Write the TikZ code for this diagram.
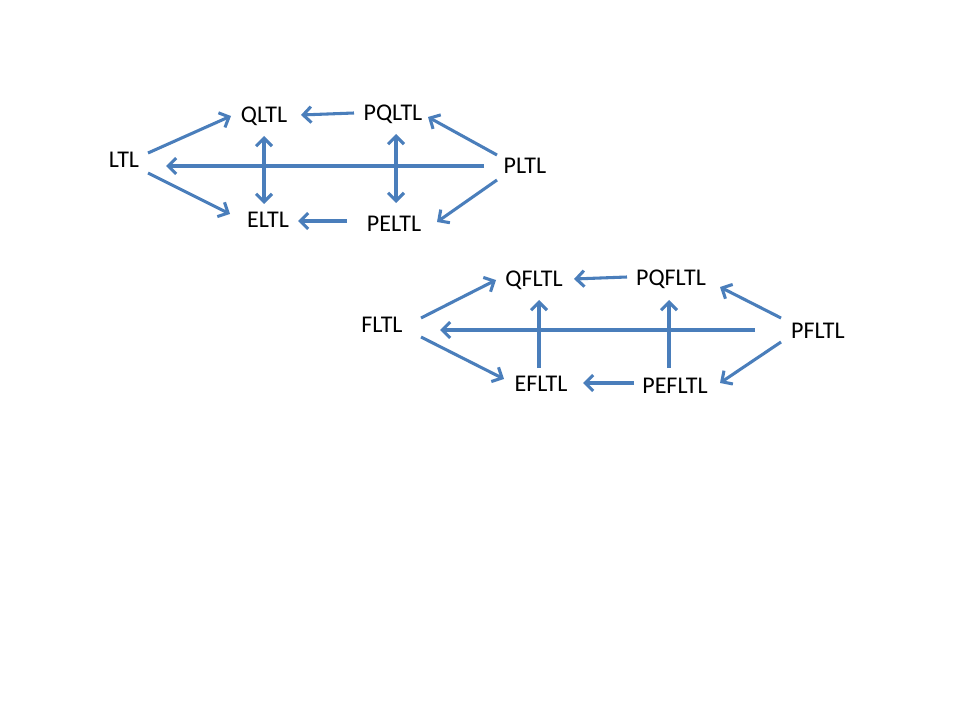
\documentclass[tikz,border=0pt]{standalone}
\usepackage{fontspec}
\setmainfont{Carlito}
\usetikzlibrary{arrows.meta}
\definecolor{linkblue}{HTML}{4A7EBB}
\begin{document}
\begin{tikzpicture}[x=0.75pt,y=-0.75pt,
  lbl/.style={inner sep=0pt,font=\fontsize{18}{22}\selectfont},
  tip/.tip={Straight Barb[length=6pt,width=12pt]},
  arr/.style={draw=linkblue,line width=2.3pt,-tip},
  darr/.style={arr,tip-tip}]
\useasboundingbox (0,0) rectangle (960,720);

% upper diagram
\node[lbl] (ltl)   at (124,160) {LTL};
\node[lbl] (qltl)  at (264,116) {QLTL};
\node[lbl] (pqltl) at (393,114) {PQLTL};
\node[lbl] (pltl)  at (525,166) {PLTL};
\node[lbl] (eltl)  at (268,220) {ELTL};
\node[lbl] (peltl) at (394,224) {PELTL};

\draw[arr] ([shift={(24,-7)}]ltl.center) -- ([shift={(-33,0)}]qltl.center);
\draw[arr] ([shift={(24,13)}]ltl.center) -- ([shift={(-38,-6)}]eltl.center);
\draw[arr] ([shift={(-41,0)}]pltl.center) -- ([shift={(42,6)}]ltl.center);
\draw[arr] ([shift={(-39,-1)}]pqltl.center) -- ([shift={(37,-1)}]qltl.center);
\draw[arr] ([shift={(-47,-3)}]peltl.center) -- ([shift={(30,1)}]eltl.center);
\draw[arr] ([shift={(-28,-11)}]pltl.center) -- ([shift={(35,3)}]pqltl.center);
\draw[arr] ([shift={(-28,14)}]pltl.center) -- ([shift={(43,-2)}]peltl.center);
\draw[darr] ([shift={(0,20)}]qltl.center) -- ([shift={(-4,-16)}]eltl.center);
\draw[darr] ([shift={(3,20)}]pqltl.center) -- ([shift={(2,-21)}]peltl.center);

% lower diagram
\node[lbl] (fltl)   at (382,325) {FLTL};
\node[lbl] (qfltl)  at (534,280) {QFLTL};
\node[lbl] (pqfltl) at (671,279) {PQFLTL};
\node[lbl] (pfltl)  at (818,331) {PFLTL};
\node[lbl] (efltl)  at (541,384) {EFLTL};
\node[lbl] (pefltl) at (675,386) {PEFLTL};

\draw[arr] ([shift={(39,-7)}]fltl.center) -- ([shift={(-38,0)}]qfltl.center);
\draw[arr] ([shift={(39,12)}]fltl.center) -- ([shift={(-37,-5)}]efltl.center);
\draw[arr] ([shift={(-63,-1)}]pfltl.center) -- ([shift={(58,5)}]fltl.center);
\draw[arr] ([shift={(-44,-2)}]pqfltl.center) -- ([shift={(40,-1)}]qfltl.center);
\draw[arr] ([shift={(-41,-3)}]pefltl.center) -- ([shift={(42,-1)}]efltl.center);
\draw[arr] ([shift={(-37,-13)}]pfltl.center) -- ([shift={(49,8)}]pqfltl.center);
\draw[arr] ([shift={(-37,11)}]pfltl.center) -- ([shift={(45,-3)}]pefltl.center);
\draw[arr] ([shift={(-2,-16)}]efltl.center) -- ([shift={(5,20)}]qfltl.center);
\draw[arr] ([shift={(-6,-18)}]pefltl.center) -- ([shift={(-2,21)}]pqfltl.center);
\end{tikzpicture}
\end{document}
